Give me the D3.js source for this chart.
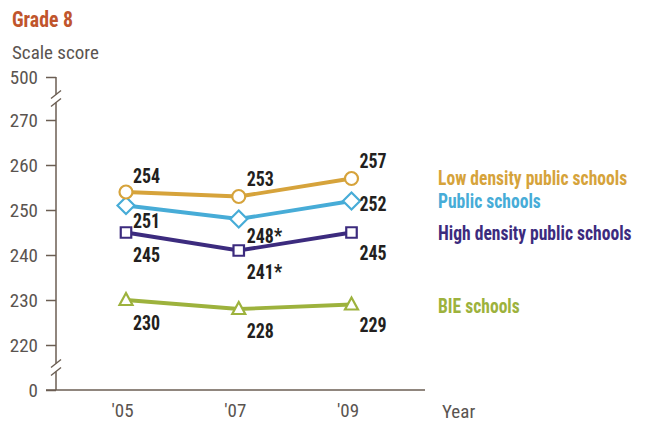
<!DOCTYPE html>
<html>
<head>
<meta charset="utf-8">
<script src="https://cdn.jsdelivr.net/npm/d3@7"></script>
<style>
  html, body { margin: 0; padding: 0; background: #ffffff; }
  svg { display: block; }
  text { font-family: "Roboto Condensed", "Liberation Sans Narrow", "Arial Narrow", sans-serif; }
</style>
</head>
<body>
<svg id="chart" width="646" height="424"></svg>
<script>
// Grade 8 average scale scores by school type
const years = ["'05", "'07", "'09"];
const lowDensity = [254, 253, 257];
const publicSchools = [251, 248, 252];
const highDensity = [245, 241, 245];
const bieSchools = [230, 228, 229];

const lowDensityLabels = ["254", "253", "257"];
const publicLabels = ["251", "248*", "252"];
const highDensityLabels = ["245", "241*", "245"];
const bieLabels = ["230", "228", "229"];

const yTicks = [0, 220, 230, 240, 250, 260, 270, 500];

const seriesNames = ["Low density public schools", "Public schools", "High density public schools", "BIE schools"];

const svg = d3.select("#chart");
const fontStack = "'Roboto Condensed', 'Liberation Sans Narrow', 'Arial Narrow', sans-serif";

// Squeeze text horizontally around its anchor point for a condensed look
function condense(sel, k) {
  sel.each(function () {
    const t = d3.select(this);
    const tx = +t.attr("x") || 0;
    const ty = +t.attr("y") || 0;
    t.attr("x", 0).attr("y", 0)
      .attr("transform", `translate(${tx},${ty}) scale(${k},1)`);
  });
}

// Broken y axis: 0 and 500 sit beyond the breaks, the 220–270 band is linear
const y = d3.scaleLinear()
  .domain([0, 220, 270, 500])
  .range([390, 345, 120, 77]);

const x = d3.scalePoint()
  .domain(years)
  .range([126, 351.5]);

const axisColor = "#6b5e53";
const tickText = "#5a5450";

// Title and axis title
svg.append("text")
  .attr("x", 12).attr("y", 27)
  .attr("fill", "#c0552c")
  .attr("font-weight", "bold")
  .attr("font-size", 22)
  .text("Grade 8")
  .call(condense, 0.9);

svg.append("text")
  .attr("x", 12).attr("y", 59)
  .attr("fill", tickText)
  .attr("font-size", 19)
  .text("Scale score");

// Y axis ticks and labels
const yAxis = d3.axisLeft(y)
  .tickValues(yTicks)
  .tickSize(10)
  .tickPadding(8)
  .tickFormat(d3.format("d"));

const gy = svg.append("g")
  .attr("transform", "translate(56,0)")
  .call(yAxis);
gy.select(".domain").remove();
gy.selectAll(".tick line").attr("stroke", axisColor).attr("stroke-width", 1.5);
gy.selectAll(".tick text")
  .attr("fill", tickText)
  .attr("font-size", 19)
  .attr("font-family", fontStack);

// Axis spine drawn in pieces around the two breaks
const breakTop = (y(500) + y(270)) / 2;
const breakBottom = (y(220) + y(0)) / 2;
const gap = 4;
const spine = [
  [y(500), breakTop - gap],
  [breakTop + gap, breakBottom - gap],
  [breakBottom + gap, y(0)]
];
svg.selectAll("line.spine")
  .data(spine)
  .join("line")
  .attr("class", "spine")
  .attr("x1", 56).attr("x2", 56)
  .attr("y1", d => d[0]).attr("y2", d => d[1])
  .attr("stroke", axisColor)
  .attr("stroke-width", 1.5);

// Break slashes
[breakTop, breakBottom].forEach(cy => {
  [-gap, gap].forEach(off => {
    svg.append("line")
      .attr("x1", 51).attr("y1", cy + off + 4)
      .attr("x2", 61).attr("y2", cy + off - 4)
      .attr("stroke", axisColor)
      .attr("stroke-width", 1.5);
  });
});

// X axis
const xAxis = d3.axisBottom(x).tickSize(0).tickPadding(14);
const gx = svg.append("g")
  .attr("transform", `translate(-4,${y(0)})`)
  .call(xAxis);
gx.select(".domain").remove();
gx.selectAll(".tick text")
  .attr("fill", tickText)
  .attr("font-size", 19)
  .attr("font-family", fontStack);

svg.append("line")
  .attr("x1", 46).attr("x2", 425)
  .attr("y1", y(0)).attr("y2", y(0))
  .attr("stroke", axisColor)
  .attr("stroke-width", 1.5);

svg.append("text")
  .attr("x", 442).attr("y", 418)
  .attr("fill", tickText)
  .attr("font-size", 19)
  .text("Year");

// Series definitions
const series = [
  { name: seriesNames[0], values: lowDensity, labels: lowDensityLabels, color: "#d6a33b", marker: "circle",
    labelDy: [-9, -10.5, -11], legendY: 185 },
  { name: seriesNames[1], values: publicSchools, labels: publicLabels, color: "#47acd7", marker: "diamond",
    labelDy: [22.5, 23.5, 10], legendY: 208 },
  { name: seriesNames[2], values: highDensity, labels: highDensityLabels, color: "#3c2b7e", marker: "square",
    labelDy: [29, 28, 27.5], legendY: 240 },
  { name: seriesNames[3], values: bieSchools, labels: bieLabels, color: "#9db23d", marker: "triangle",
    labelDy: [30, 28.5, 27], legendY: 313 }
];

const line = d3.line()
  .x((d, i) => x(years[i]))
  .y(d => y(d));

const symbolPaths = {
  circle: d3.symbol().type(d3.symbolCircle).size(Math.PI * 6.5 * 6.5)(),
  diamond: "M0,-8.5L8.5,0L0,8.5L-8.5,0Z",
  square: d3.symbol().type(d3.symbolSquare).size(10.5 * 10.5)(),
  triangle: "M0,-7L6.5,5L-6.5,5Z"
};

// Draw from the bottom series up so the top series' markers sit above
series.slice().reverse().forEach(s => {
  svg.append("path")
    .datum(s.values)
    .attr("d", line)
    .attr("fill", "none")
    .attr("stroke", s.color)
    .attr("stroke-width", 3.8);

  svg.selectAll(null)
    .data(s.values)
    .join("path")
    .attr("transform", (d, i) => `translate(${x(years[i])},${y(d)})`)
    .attr("d", symbolPaths[s.marker])
    .attr("fill", "#ffffff")
    .attr("stroke", s.color)
    .attr("stroke-width", 2.2);
});

// Value labels
series.forEach(s => {
  svg.selectAll(null)
    .data(s.values)
    .join("text")
    .attr("x", (d, i) => x(years[i]) + (i === 0 ? 7 : 8))
    .attr("y", (d, i) => y(d) + s.labelDy[i])
    .attr("fill", "#231f20")
    .attr("font-weight", "bold")
    .attr("font-size", 19.5)
    .text((d, i) => s.labels[i])
    .call(condense, 0.92);
});

// Legend labels
series.forEach(s => {
  svg.append("text")
    .attr("x", 438)
    .attr("y", s.legendY)
    .attr("fill", s.color)
    .attr("font-weight", "bold")
    .attr("font-size", 19.5)
    .text(s.name)
    .call(condense, 0.9);
});
</script>
</body>
</html>
